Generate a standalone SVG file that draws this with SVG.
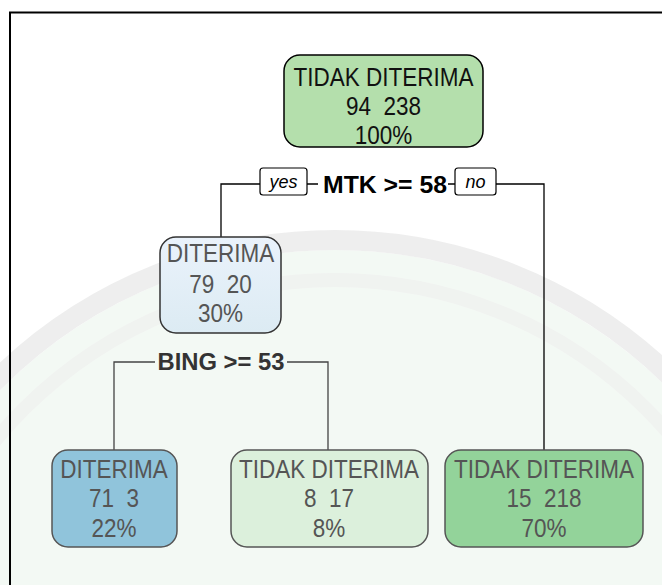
<svg xmlns="http://www.w3.org/2000/svg" width="662" height="585" viewBox="0 0 662 585">
<defs>
<linearGradient id="g2" x1="0" y1="0" x2="0" y2="1">
<stop offset="0" stop-color="#eaf2fb"/>
<stop offset="1" stop-color="#dcebf3"/>
</linearGradient>
</defs>
<style>
.n{font-family:"Liberation Sans",Arial,sans-serif;font-size:25px;text-anchor:middle;white-space:pre}
.box{stroke-width:1.5}
.lbl{font-family:"Liberation Sans",Arial,sans-serif;font-size:23.5px;font-weight:bold;text-anchor:middle}
.yn{font-family:"Liberation Sans",Arial,sans-serif;font-size:18px;font-style:italic;text-anchor:middle}
.ln{stroke:#000;stroke-width:1.3;fill:none}
.ln2{stroke:#444;stroke-width:1.3;fill:none}
</style>
<rect x="0" y="0" width="662" height="585" fill="#ffffff"/>
<g id="watermark" opacity="0.85">
<circle cx="335" cy="720" r="470" fill="#f2f8f3"/>
<circle cx="335" cy="720" r="480" fill="none" stroke="#ececec" stroke-width="20"/>
<circle cx="335" cy="720" r="440" fill="none" stroke="#eef1ee" stroke-width="14"/>
</g>
<path d="M10 585 V12.5 H662" fill="none" stroke="#000" stroke-width="2"/>
<g id="connectors">
<path class="ln" d="M221 237 V184 H260 M307 184 H318 M448 184 H455 M496 184 H544 V450"/>
<path class="ln2" d="M114 450 V362 H155 M287 362 H328 V450"/>
</g>
<g id="split1">
<rect x="260" y="168" width="47" height="27" rx="3" fill="#fff" stroke="#000" stroke-width="1.2"/>
<text class="yn" x="283.5" y="188">yes</text>
<text class="lbl" x="385" y="193" textLength="124" lengthAdjust="spacingAndGlyphs">MTK &gt;= 58</text>
<rect x="455" y="168" width="41" height="27" rx="3" fill="#fff" stroke="#000" stroke-width="1.2"/>
<text class="yn" x="475.5" y="188">no</text>
</g>
<g id="split2">
<text class="lbl" x="221" y="370" fill="#333" textLength="127" lengthAdjust="spacingAndGlyphs">BING &gt;= 53</text>
</g>
<g id="node1">
<rect class="box" x="284" y="55" width="199" height="92" rx="16" fill="#b4dfac" stroke="#000"/>
<g transform="translate(383.5,0) scale(0.9,1)">
<text class="n" x="0" y="86" fill="#111">TIDAK DITERIMA</text>
<text class="n" x="0" y="115.5" fill="#111">94  238</text>
<text class="n" x="0" y="144" fill="#111">100%</text>
</g>
</g>
<g id="node2">
<rect class="box" x="160" y="237" width="121" height="96" rx="16" fill="url(#g2)" stroke="#333"/>
<g transform="translate(220.5,0) scale(0.9,1)" fill="#555">
<text class="n" x="0" y="262">DITERIMA</text>
<text class="n" x="0" y="293">79  20</text>
<text class="n" x="0" y="322">30%</text>
</g>
</g>
<g id="node4">
<rect class="box" x="52" y="450" width="125" height="97" rx="16" fill="#90c4db" stroke="#555"/>
<g transform="translate(114,0) scale(0.9,1)" fill="#555">
<text class="n" x="0" y="478">DITERIMA</text>
<text class="n" x="0" y="507">71  3</text>
<text class="n" x="0" y="537">22%</text>
</g>
</g>
<g id="node5">
<rect class="box" x="231" y="450" width="197" height="97" rx="16" fill="#dcf0dc" stroke="#555"/>
<g transform="translate(329,0) scale(0.9,1)" fill="#555">
<text class="n" x="0" y="478">TIDAK DITERIMA</text>
<text class="n" x="0" y="507">8  17</text>
<text class="n" x="0" y="537">8%</text>
</g>
</g>
<g id="node3">
<rect class="box" x="445" y="450" width="198" height="97" rx="16" fill="#93d39a" stroke="#555"/>
<g transform="translate(544,0) scale(0.9,1)" fill="#555">
<text class="n" x="0" y="478">TIDAK DITERIMA</text>
<text class="n" x="0" y="507">15  218</text>
<text class="n" x="0" y="537">70%</text>
</g>
</g>
</svg>
